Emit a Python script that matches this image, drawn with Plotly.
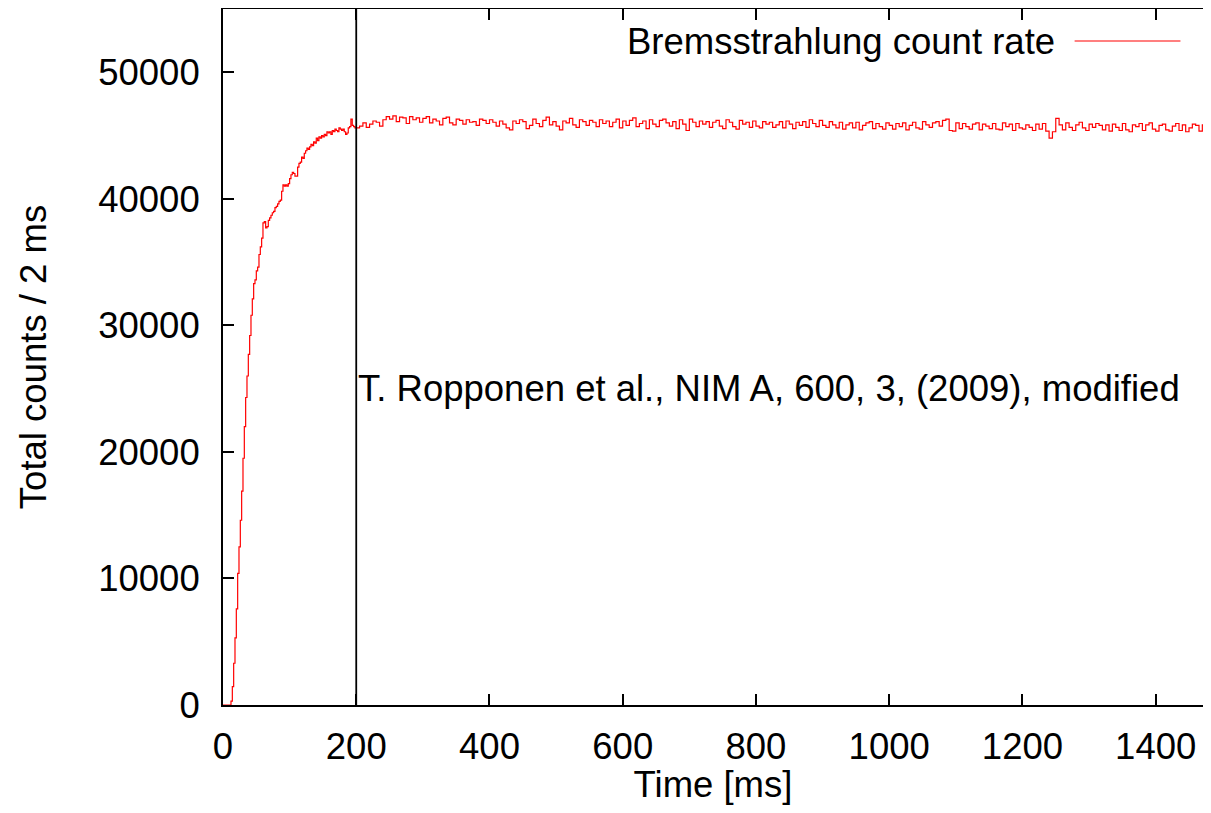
import numpy as np
import plotly.graph_objects as go

# rise, 2 ms bins from 0 to 198 ms
rise_counts = [
    0, 0, 0, 0, 0, 0, 300, 1450, 3300, 5300,
    7600, 10400, 12500, 14600, 16900, 19500, 22000, 24300, 26000, 27700,
    29200, 30800, 32100, 33300, 33600, 34300, 34600, 35600, 36200, 36900,
    38100, 38200, 37700, 37800, 38300, 38500, 38700, 38900, 39000, 39300,
    39400, 39600, 39800, 39900, 40600, 41100, 41000, 41100, 41000, 41200,
    41600, 41900, 42100, 42000, 41800, 41800, 42500, 42800, 42900, 43300,
    43200, 43600, 43800, 44000, 43900, 44100, 44300, 44200, 44500, 44400,
    44800, 44600, 44900, 44800, 45000, 44900, 45100, 45000, 45300, 45200,
    45300, 45100, 45400, 45300, 45500, 45400, 45300, 45600, 45500, 45400,
    45500, 45300, 45100, 45200, 45600, 45700, 46300, 45800, 45700, 45600,
]

# plateau, 5 ms bins from 200 to 1475 ms
plateau_counts = [
    45600, 45750, 46000, 45650, 45900, 46150, 46050, 45750, 46250, 46500, 46300, 46550, 46100, 46450, 46400, 45950, 46500, 46250, 46400, 46050,
    46350, 46500, 46000, 46300, 46150, 45850, 46350, 46450, 46000, 45850, 46300, 46200, 45900, 46250, 46050, 46100, 45800, 46300, 46200, 45950,
    46250, 46050, 45750, 46150, 45900, 45600, 45450, 46150, 45950, 46250, 46100, 45550, 45800, 46300, 45950, 45700, 46200, 46450, 45850, 46100,
    45750, 45450, 46150, 46000, 46350, 45850, 45650, 46250, 46100, 45800, 46200, 46050, 45700, 46250, 45950, 46150, 45700, 46050, 46300, 45600,
    46150, 45800, 46200, 46400, 45700, 45950, 46150, 45550, 46250, 45900, 45700, 46200, 46300, 46000, 45750, 46100, 45550, 46250, 45900, 45400,
    46300, 46050, 45700, 46150, 45900, 46100, 45650, 46050, 46200, 45750, 45550, 46250, 46050, 45700, 45500, 46200, 45900, 46050, 45650, 46150,
    45750, 45600, 46100, 45900, 46050, 45650, 45850, 46100, 45600, 46150, 45900, 45550, 46050, 45800, 46100, 45650, 46250, 45950, 45700, 46200,
    45800, 45650, 46100, 45850, 45600, 46050, 45500, 45850, 46000, 45600, 46050, 45450, 45800, 46000, 46100, 45550, 45950, 45700, 45500, 46000,
    45800, 45500, 45950, 45700, 46000, 45450, 45800, 46050, 45600, 45500, 46100, 45850, 45650, 46000, 46100, 45750, 46200, 46300, 45400, 45350,
    46000, 45550, 45950, 45700, 45500, 45900, 46000, 45450, 45900, 45750, 45550, 45950, 45500, 45450, 46000, 45700, 45900, 45400, 45950, 45600,
    45500, 45850, 45650, 45400, 45900, 45500, 45950, 45350, 44800, 45300, 46350, 45850, 45450, 46000, 45650, 45400, 45850, 46050, 45600, 45400,
    45900, 45650, 45950, 45800, 45450, 45850, 45350, 45900, 45650, 45400, 45950, 45450, 45300, 45850, 45700, 45950, 45400, 45850, 46000, 45500,
    45350, 45800, 45900, 45450, 45350, 45750, 45950, 45400, 45850, 45300, 45600, 45900, 45800, 45350, 45850, 45950, 45500, 45400, 45800, 45900,
]

rise_time = np.arange(len(rise_counts)) * 2
plateau_time = 200 + np.arange(len(plateau_counts)) * 5
time = np.concatenate([rise_time, plateau_time])
counts = rise_counts + plateau_counts

series_name = "Bremsstrahlung count rate"
ref_text = "T. Ropponen et al., NIM A, 600, 3, (2009), modified"
marker_time = 200

font = dict(family="Liberation Sans, Arial, sans-serif", size=36.5, color="black")

fig = go.Figure()
fig.add_trace(go.Scatter(
    x=time, y=counts, mode="lines", line=dict(color="#ff0000", width=1.2, shape="hv"),
    name=series_name, showlegend=False,
))

fig.add_vline(x=marker_time, line=dict(color="black", width=1.8))

fig.add_annotation(x=marker_time, y=25000, text=ref_text, showarrow=False,
                   xanchor="left", yanchor="middle", font=font)

# gnuplot style key: text then sample line
fig.add_annotation(x=0.851, y=0.954, xref="paper", yref="paper", text=series_name,
                   showarrow=False, xanchor="right", yanchor="middle", font=font)
fig.add_shape(type="line", xref="paper", yref="paper", x0=0.869, x1=0.977, y0=0.954, y1=0.954,
              line=dict(color="#ff0000", width=1.2))

fig.update_xaxes(
    range=[0, 1471], tickvals=list(range(0, 1401, 200)), ticks="inside", ticklen=11, tickwidth=1.5,
    tickcolor="black", showline=True, linecolor="black", linewidth=2, mirror="ticks",
    showgrid=False, zeroline=False, tickfont=font, ticklabelstandoff=8, automargin=False,
    title=dict(text="Time [ms]", font=font, standoff=17),
)
fig.update_yaxes(
    range=[0, 55000], tickvals=list(range(0, 50001, 10000)), tickformat="d",
    ticks="inside", ticklen=11, tickwidth=1.5,
    tickcolor="black", showline=True, linecolor="black", linewidth=2, mirror=False,
    showgrid=False, zeroline=False, tickfont=font, ticklabelstandoff=14, automargin=False,
    title=dict(text="Total counts / 2 ms", font=font, standoff=40),
)

# the page adds an 8 px body margin on every side, so the figure is smaller
fig.update_layout(
    width=1195, height=797, margin=dict(l=215, r=0, t=1, b=100),
    plot_bgcolor="white", paper_bgcolor="white", font=font,
)

fig.write_html("out.html")
